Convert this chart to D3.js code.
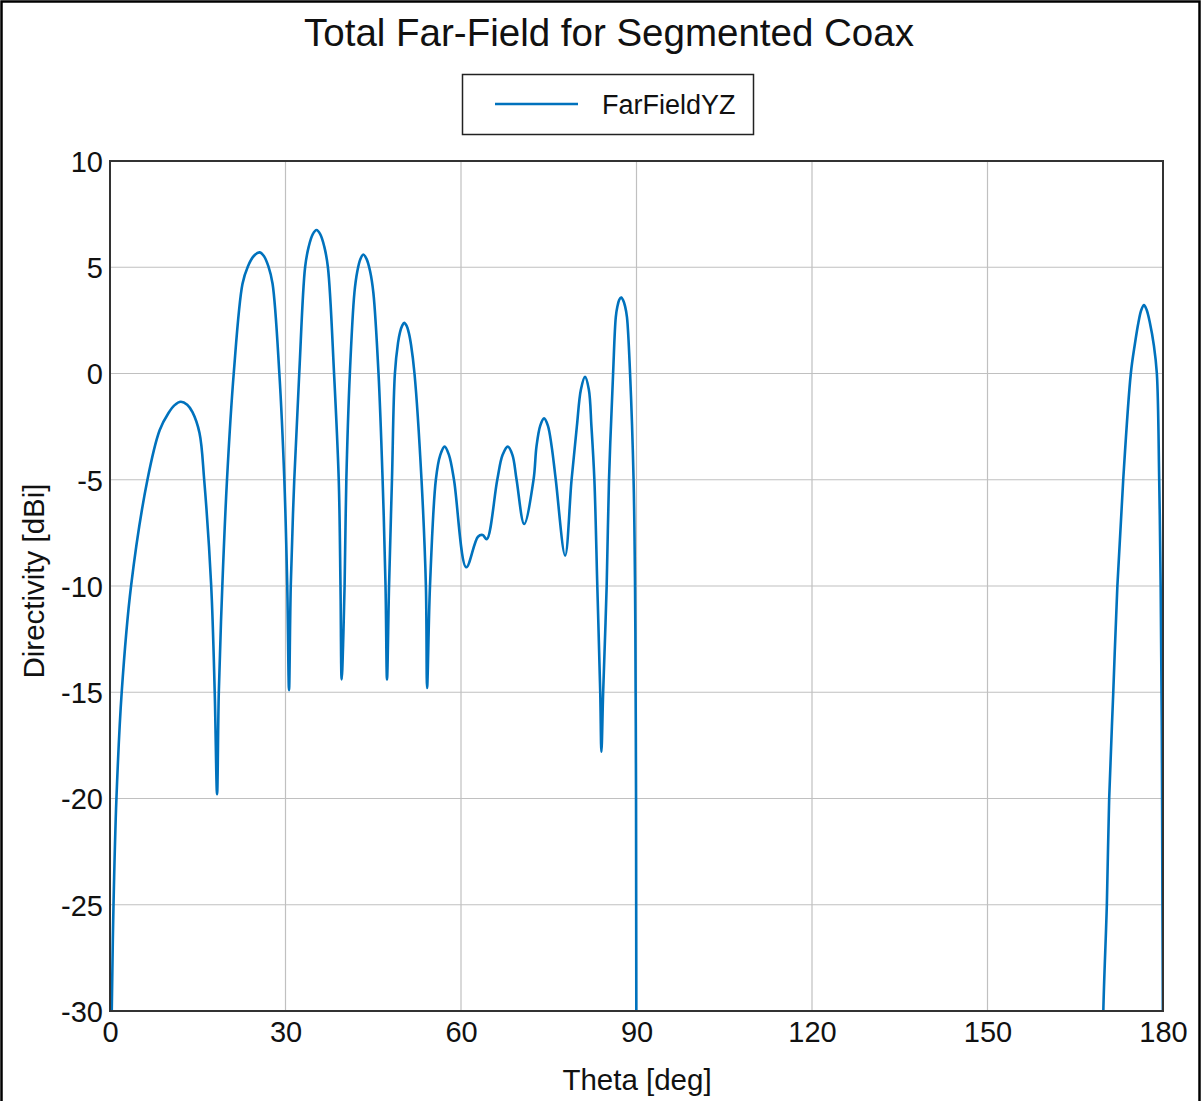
<!DOCTYPE html>
<head>
  <meta charset="utf-8">
  <script src="https://d3js.org/d3.v7.min.js"></script>
  <style>
    body { margin:0; background:#fff; }
    svg { display:block; font-family:"Liberation Sans", Arial, sans-serif; }
  </style>
</head>
<body>
  <svg width="1201" height="1101"></svg>
  <script>
    var title = 'Total Far-Field for Segmented Coax';
    var seriesName = 'FarFieldYZ';
    var xTicks = [0, 30, 60, 90, 120, 150, 180];
    var yTicks = [-30, -25, -20, -15, -10, -5, 0, 5, 10];

    // theta [deg] and directivity [dBi]; null = below -30 (not drawn)
    var theta = [
      0, 0.3, 0.6, 1.1, 2.0, 3.6, 6.4, 8.5, 10.0, 11.0, 12.1, 13.2, 14.1, 15.3, 16.1, 17.3, 17.9, 18.3,
      18.6, 19.2, 20.0, 21.15, 22.65, 23.57, 24.58, 25.55, 26.3, 27.08, 27.79, 28.95, 29.8, 30.3, 30.6,
      30.9, 31.5, 32.35, 33.35, 33.97, 34.65, 35.3, 35.95, 36.63, 37.25, 38.3, 39.1, 39.4, 39.6,
      40.1, 40.4, 41.0, 41.78, 42.27, 42.79, 43.3, 43.87, 44.47, 45.02, 45.9, 46.6, 47.1, 47.35,
      47.7, 48.2, 48.7, 49.24, 49.58, 49.95, 50.3, 50.69, 51.09, 51.46, 52.05, 53.25, 54.0, 54.2,
      54.7, 55.7, 56.45, 57.2, 57.95, 58.8, 60.9, 62.9, 63.7, 64.4,
      66.2, 67.1, 68.0, 68.8, 69.5, 70.8,
      72.4, 72.9, 73.55, 74.2, 74.85, 75.5, 76.2, 77.8,
      78.9, 79.8, 80.5, 81.2, 81.85, 82.3, 82.8, 83.3, 83.8, 84.0,
      84.3, 84.9, 85.3, 86.0, 86.46, 86.74, 87.05, 87.35, 87.69, 88.05, 88.37, 88.9,
      89.5, 89.75, 89.85, 89.92, 89.97, 90.0,
      130,
      169.6, 169.8, 170.4, 170.8, 171.5, 172.2, 173.2, 174.5, 175.2, 175.8, 176.3, 176.75,
      177.2, 177.75, 178.45, 178.95, 179.35, 179.6, 179.8, 179.9, 179.97, 180
    ];
    var directivity = [
      -36, -30, -25, -20, -15, -10, -5, -2.66, -1.86, -1.5, -1.33, -1.47, -1.82, -2.8, -5, -10, -15, -19.8,
      -15, -10, -5, 0, 4.22, 5.04, 5.53, 5.7, 5.53, 5.04, 4.22, 0, -5, -10, -14.9,
      -10, -5, 0, 5.0, 5.97, 6.55, 6.75, 6.55, 5.97, 5.0, 0, -5, -10, -14.4,
      -10, -5, 0, 3.8, 4.8, 5.38, 5.6, 5.38, 4.8, 3.8, 0, -5, -10, -14.4,
      -10, -5, 0, 1.45, 1.95, 2.25, 2.39, 2.25, 1.9, 1.35, 0, -5, -10, -14.8,
      -10, -5, -3.84, -3.44, -3.84, -5, -9.12, -7.68, -7.6, -7.8,
      -5, -3.84, -3.44, -3.84, -5, -7.08,
      -5, -3.44, -2.45, -2.11, -2.45, -3.44, -5, -8.57,
      -5, -2.5, -0.75, -0.16, -0.75, -2.5, -5, -10, -15, -17.8,
      -15, -10, -5, 0, 2.65, 3.16, 3.47, 3.58, 3.47, 3.16, 2.65, 0,
      -5, -10, -15, -20, -30, -45,
      null,
      -35, -30, -25, -20, -15, -10, -5, 0, 1.4, 2.4, 3.0, 3.22,
      3.0, 2.4, 1.3, 0, -5, -10, -17, -25, -30, -45
    ];

    var data = theta.map((t, i) => ({t: t, v: directivity[i]}));

    var margin = {top: 161, right: 38, bottom: 90, left: 110};
    var width = 1201, height = 1101;
    var svg = d3.select('svg');

    var xScale = d3.scaleLinear().domain([0, 180]).range([margin.left, 1163]);
    var yScale = d3.scaleLinear().domain([-30, 10]).range([1011, margin.top]);

    // outer frame
    svg.append('rect')
      .attr('x', 1.5).attr('y', 1.5)
      .attr('width', width - 3).attr('height', height + 10)
      .attr('fill', 'none').attr('stroke', '#000').attr('stroke-width', 2.5);

    // title
    svg.append('text')
      .attr('x', 609).attr('y', 46)
      .attr('text-anchor', 'middle')
      .attr('font-size', 38.5)
      .attr('fill', '#111')
      .text(title);

    // grid
    svg.append('g')
      .selectAll('line').data(xTicks.slice(1, -1))
      .enter().append('line')
      .attr('x1', d => xScale(d)).attr('x2', d => xScale(d))
      .attr('y1', yScale(10)).attr('y2', yScale(-30))
      .attr('stroke', '#c0c0c0').attr('stroke-width', 1.2);
    svg.append('g')
      .selectAll('line').data(yTicks.slice(1, -1))
      .enter().append('line')
      .attr('x1', xScale(0)).attr('x2', xScale(180))
      .attr('y1', d => yScale(d)).attr('y2', d => yScale(d))
      .attr('stroke', '#c0c0c0').attr('stroke-width', 1.2);

    // axes (labels only, no tick marks), plain hyphen for negatives
    var xAxis = d3.axisBottom(xScale).tickValues(xTicks).tickSize(0).tickPadding(10)
      .tickFormat(d => String(d));
    var yAxis = d3.axisLeft(yScale).tickValues(yTicks).tickSize(0).tickPadding(7)
      .tickFormat(d => String(d));

    var gx = svg.append('g')
      .attr('transform', 'translate(' + [0, yScale(-30)] + ')')
      .call(xAxis);
    var gy = svg.append('g')
      .attr('transform', 'translate(' + [xScale(0)] + ')')
      .call(yAxis);
    [gx, gy].forEach(g => {
      g.select('.domain').remove();
      g.selectAll('text')
        .attr('font-family', '"Liberation Sans", Arial, sans-serif')
        .attr('font-size', 29)
        .attr('fill', '#111');
    });
    gy.selectAll('text').attr('dy', '0.36em');
    gx.selectAll('text').attr('dy', '0.72em');

    // clipped series line
    svg.append('clipPath').attr('id', 'plot-clip')
      .append('rect')
      .attr('x', xScale(0)).attr('y', yScale(10))
      .attr('width', xScale(180) - xScale(0))
      .attr('height', yScale(-30) - yScale(10));

    var line = d3.line()
      .defined(d => d.v !== null)
      .x(d => xScale(d.t))
      .y(d => yScale(d.v))
      .curve(d3.curveCatmullRom.alpha(0.5));

    svg.append('path')
      .datum(data)
      .attr('clip-path', 'url(#plot-clip)')
      .attr('d', line)
      .attr('fill', 'none')
      .attr('stroke', '#0072bd')
      .attr('stroke-width', 2.6)
      .attr('stroke-linejoin', 'round');

    // plot frame
    svg.append('rect')
      .attr('x', xScale(0)).attr('y', yScale(10))
      .attr('width', xScale(180) - xScale(0))
      .attr('height', yScale(-30) - yScale(10))
      .attr('fill', 'none').attr('stroke', '#333').attr('stroke-width', 2);

    // axis titles
    svg.append('text')
      .attr('x', 637).attr('y', 1090)
      .attr('text-anchor', 'middle')
      .attr('font-size', 29.5).attr('fill', '#111')
      .text('Theta [deg]');
    svg.append('text')
      .attr('transform', 'translate(44,581) rotate(-90)')
      .attr('text-anchor', 'middle')
      .attr('font-size', 29.5).attr('fill', '#111')
      .text('Directivity [dBi]');

    // legend
    var lg = svg.append('g');
    lg.append('rect')
      .attr('x', 462.5).attr('y', 74.5)
      .attr('width', 291).attr('height', 60)
      .attr('fill', '#fff').attr('stroke', '#222').attr('stroke-width', 1.5);
    lg.append('line')
      .attr('x1', 495).attr('x2', 578)
      .attr('y1', 104).attr('y2', 104)
      .attr('stroke', '#0072bd').attr('stroke-width', 2.6);
    lg.append('text')
      .attr('x', 602).attr('y', 114)
      .attr('font-size', 27).attr('fill', '#111')
      .text(seriesName);
  </script>
</body>
